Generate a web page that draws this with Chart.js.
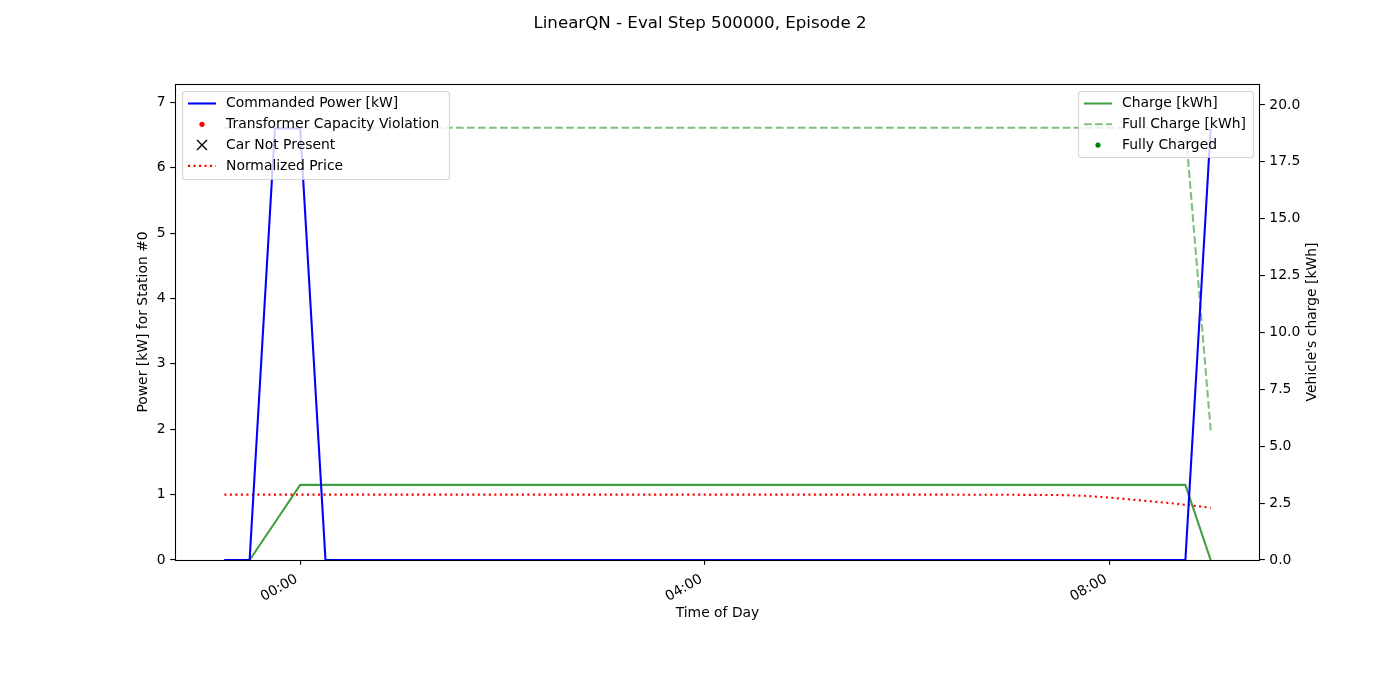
<!DOCTYPE html>
<html>
<head>
<meta charset="utf-8">
<script src="https://cdn.jsdelivr.net/npm/chart.js@4.4.0/dist/chart.umd.min.js"></script>
<style>
html,body{margin:0;padding:0;background:#fff;}
#wrap{width:1400px;height:700px;position:relative;}
</style>
</head>
<body>
<div id="wrap"><canvas id="c" width="1400" height="700"></canvas></div>
<script>
// ---- data (time in hours relative to midnight, 15-minute steps) ----
const timeHours = [-0.75,-0.5,-0.25,0,0.25,0.5,0.75,1,1.25,1.5,1.75,2,2.25,2.5,2.75,3,3.25,3.5,3.75,4,4.25,4.5,4.75,5,5.25,5.5,5.75,6,6.25,6.5,6.75,7,7.25,7.5,7.75,8,8.25,8.5,8.75,9];
const commandedPower = [0,0,6.6,6.6,0,0,0,0,0,0,0,0,0,0,0,0,0,0,0,0,0,0,0,0,0,0,0,0,0,0,0,0,0,0,0,0,0,0,0,6.6];
const normalizedPrice = [1,1,1,1,1,1,1,1,1,1,1,1,1,1,1,1,1,1,1,1,1,1,1,1,1,1,1,1,1,0.999,0.998,0.997,0.996,0.993,0.982,0.955,0.92,0.885,0.845,0.80];
const charge = [0,0,1.65,3.3,3.3,3.3,3.3,3.3,3.3,3.3,3.3,3.3,3.3,3.3,3.3,3.3,3.3,3.3,3.3,3.3,3.3,3.3,3.3,3.3,3.3,3.3,3.3,3.3,3.3,3.3,3.3,3.3,3.3,3.3,3.3,3.3,3.3,3.3,3.3,0];
const fullCharge = [19,19,19,19,19,19,19,19,19,19,19,19,19,19,19,19,19,19,19,19,19,19,19,19,19,19,19,19,19,19,19,19,19,19,19,19,19,19,19,5.7];
const transformerViolation = [];
const carNotPresent = [];
const fullyCharged = [];
const xTickValues = [0,4,8];
const xTickLabels = ['00:00','04:00','08:00'];
const leftTicks = [0,1,2,3,4,5,6,7];
const rightTicks = [0,2.5,5,7.5,10,12.5,15,17.5,20];
const xRange = [-1.2375, 9.4875];
const leftMax = 7.28;
const rightMax = 20.92;

const pts = (ys) => timeHours.map((t,i)=>({x:t,y:ys[i]}));
const FONT = "'DejaVu Sans', sans-serif";
const LW = 2.08;
const DOTTED = [2.08, 3.43];
const DASHED = [7.7, 3.33];

const legendLeft = [
  {label:'Commanded Power [kW]', kind:'line', color:'#0000ff'},
  {label:'Transformer Capacity Violation', kind:'dot', color:'#ff0000'},
  {label:'Car Not Present', kind:'x', color:'#000000'},
  {label:'Normalized Price', kind:'dotted', color:'#ff0000'}
];
const legendRight = [
  {label:'Charge [kWh]', kind:'line', color:'rgba(0,128,0,0.75)'},
  {label:'Full Charge [kWh]', kind:'dashed', color:'rgba(0,128,0,0.5)'},
  {label:'Fully Charged', kind:'dot', color:'#008000'}
];

function roundRect(ctx,x,y,w,h,r){
  ctx.beginPath();
  ctx.moveTo(x+r,y);ctx.lineTo(x+w-r,y);ctx.quadraticCurveTo(x+w,y,x+w,y+r);
  ctx.lineTo(x+w,y+h-r);ctx.quadraticCurveTo(x+w,y+h,x+w-r,y+h);
  ctx.lineTo(x+r,y+h);ctx.quadraticCurveTo(x,y+h,x,y+h-r);
  ctx.lineTo(x,y+r);ctx.quadraticCurveTo(x,y,x+r,y);ctx.closePath();
}
function drawLegend(ctx, items, bx, by, bw, bh){
  ctx.save();
  roundRect(ctx,bx+0.5,by+0.5,bw,bh,3);
  ctx.fillStyle='rgba(255,255,255,0.8)';ctx.fill();
  ctx.strokeStyle='rgba(204,204,204,0.8)';ctx.lineWidth=1.2;ctx.stroke();
  ctx.font='13.9px '+FONT;ctx.textBaseline='middle';ctx.textAlign='left';
  items.forEach((it,i)=>{
    const cy = by+12.5+i*20.8;
    const hx0 = bx+6, hx1 = bx+34, hc=(hx0+hx1)/2;
    ctx.strokeStyle=it.color;ctx.fillStyle=it.color;ctx.lineWidth=LW;
    if(it.kind==='line'||it.kind==='dotted'||it.kind==='dashed'){
      ctx.setLineDash(it.kind==='dotted'?DOTTED:it.kind==='dashed'?DASHED:[]);
      ctx.beginPath();ctx.moveTo(hx0,cy);ctx.lineTo(hx1,cy);ctx.stroke();
      ctx.setLineDash([]);
    } else if(it.kind==='dot'){
      ctx.beginPath();ctx.arc(hc,cy,2.6,0,Math.PI*2);ctx.fill();
    } else if(it.kind==='x'){
      ctx.lineWidth=1.4;ctx.beginPath();
      ctx.moveTo(hc-5,cy-5);ctx.lineTo(hc+5,cy+5);ctx.moveTo(hc+5,cy-5);ctx.lineTo(hc-5,cy+5);ctx.stroke();
    }
    ctx.fillStyle='#000';
    ctx.fillText(it.label,bx+44,cy);
  });
  ctx.restore();
}

const framePlugin = {
  id:'frame',
  afterDatasetsDraw(chart){
    const {ctx, chartArea:a} = chart;
    ctx.save();
    ctx.strokeStyle='#000';ctx.lineWidth=1.1;
    ctx.strokeRect(Math.round(a.left)+0.5,Math.round(a.top)+0.5,Math.round(a.right-a.left)-1,Math.round(a.bottom-a.top));
    ctx.restore();
    drawLegend(ctx, legendLeft, 182, 91, 267, 88);
    drawLegend(ctx, legendRight, 1078, 91, 175, 66);
  },
  afterDraw(chart){
    const {ctx, chartArea:a} = chart;
    ctx.save();
    ctx.font='13.9px '+FONT;ctx.fillStyle='#000';ctx.textAlign='center';ctx.textBaseline='middle';
    ctx.translate(1312,(a.top+a.bottom)/2);ctx.rotate(-Math.PI/2);
    ctx.fillText("Vehicle's charge [kWh]",0,0);
    ctx.restore();
  }
};

const tickFont = {family:FONT, size:13.9};
new Chart(document.getElementById('c'),{
  type:'line',
  data:{datasets:[
    {label:'Commanded Power [kW]', data:pts(commandedPower), yAxisID:'y', borderColor:'#0000ff', borderWidth:LW, pointRadius:0, tension:0},
    {label:'Transformer Capacity Violation', data:transformerViolation, yAxisID:'y', showLine:false, pointRadius:2.5, backgroundColor:'#ff0000', borderColor:'#ff0000'},
    {label:'Car Not Present', data:carNotPresent, yAxisID:'y', showLine:false, pointStyle:'crossRot', pointRadius:5, borderColor:'#000'},
    {label:'Normalized Price', data:pts(normalizedPrice), yAxisID:'y', borderColor:'#ff0000', borderWidth:LW, borderDash:DOTTED, pointRadius:0, tension:0},
    {label:'Charge [kWh]', data:pts(charge), yAxisID:'y2', borderColor:'rgba(0,128,0,0.75)', borderWidth:LW, pointRadius:0, tension:0},
    {label:'Full Charge [kWh]', data:pts(fullCharge), yAxisID:'y2', borderColor:'rgba(0,128,0,0.5)', borderWidth:LW, borderDash:DASHED, pointRadius:0, tension:0},
    {label:'Fully Charged', data:fullyCharged, yAxisID:'y2', showLine:false, pointRadius:2.5, backgroundColor:'#008000', borderColor:'#008000'}
  ]},
  options:{
    responsive:false, animation:false, devicePixelRatio:1,
    layout:{padding:0},
    plugins:{
      legend:{display:false}, tooltip:{enabled:false},
      title:{display:true, text:'LinearQN - Eval Step 500000, Episode 2', color:'#000',
        font:{family:FONT, size:16.67, weight:'normal', lineHeight:1.2}, padding:{top:14,bottom:50}}
    },
    scales:{
      x:{type:'linear', min:xRange[0], max:xRange[1],
        afterBuildTicks:(s)=>{s.ticks=xTickValues.map(v=>({value:v}));},
        afterFit:(s)=>{s.height=140;},
        ticks:{color:'#000', font:tickFont, minRotation:30, maxRotation:30, padding:6, labelOffset:-3.5,
          callback:(v)=>{const i=xTickValues.indexOf(v);return i>=0?xTickLabels[i]:'';}},
        grid:{display:true, drawOnChartArea:false, tickLength:4.86, lineWidth:1.1, color:'#000', tickColor:'#000'},
        border:{display:false},
        title:{display:true, text:'Time of Day', color:'#000', font:{family:FONT,size:13.9,lineHeight:1.2}, padding:{top:0,bottom:77.8}}
      },
      y:{type:'linear', position:'left', min:0, max:leftMax,
        afterBuildTicks:(s)=>{s.ticks=leftTicks.map(v=>({value:v}));},
        afterFit:(s)=>{s.width=175;},
        ticks:{color:'#000', font:tickFont, padding:4.5, callback:(v)=>String(v)},
        grid:{display:true, drawOnChartArea:false, tickLength:4.86, lineWidth:1.1, tickColor:'#000'},
        border:{display:false},
        title:{display:true, text:'Power [kW] for Station #0', color:'#000', font:{family:FONT,size:13.9,lineHeight:1.2}, padding:{top:134.7,bottom:0}}
      },
      y2:{type:'linear', position:'right', min:0, max:rightMax,
        afterBuildTicks:(s)=>{s.ticks=rightTicks.map(v=>({value:v}));},
        afterFit:(s)=>{s.width=140;},
        ticks:{color:'#000', font:tickFont, padding:4.5, callback:(v)=>v.toFixed(1)},
        grid:{display:true, drawOnChartArea:false, tickLength:4.86, lineWidth:1.1, tickColor:'#000'},
        border:{display:false},
        title:{display:false}
      }
    }
  },
  plugins:[framePlugin]
});
</script>
</body>
</html>
